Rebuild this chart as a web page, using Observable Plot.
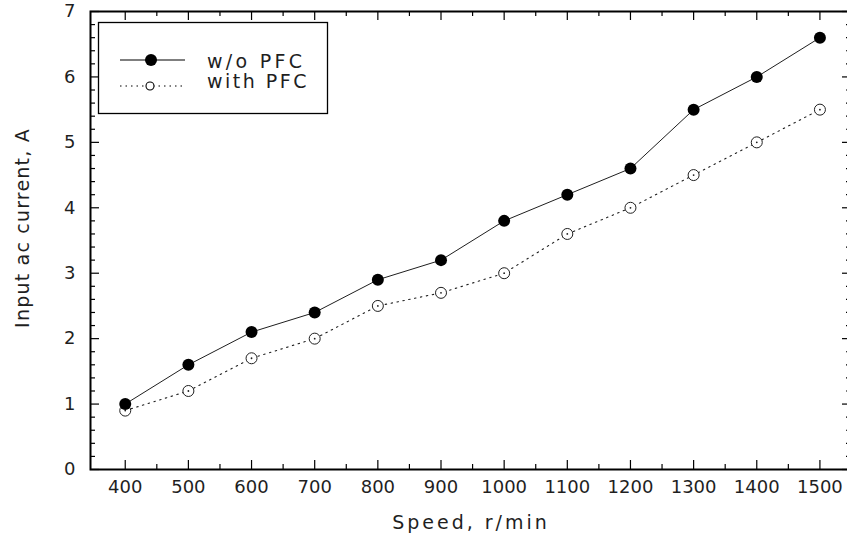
<!DOCTYPE html>
<html>
<head>
<meta charset="utf-8">
<script src="https://cdn.jsdelivr.net/npm/d3@7"></script>
<script src="https://cdn.jsdelivr.net/npm/@observablehq/plot@0.6"></script>
<style>
  html, body { margin: 0; padding: 0; background: #fff; }
  #chart { position: relative; width: 847px; height: 540px; overflow: hidden; }
  svg { font-family: "DejaVu Sans", sans-serif; }
</style>
</head>
<body>
<div id="chart"></div>
<script>
// ---- data ----
const speeds = [400, 500, 600, 700, 800, 900, 1000, 1100, 1200, 1300, 1400, 1500];
const withoutPFC = [1.0, 1.6, 2.1, 2.4, 2.9, 3.2, 3.8, 4.2, 4.6, 5.5, 6.0, 6.6];
const withPFC = [0.9, 1.2, 1.7, 2.0, 2.5, 2.7, 3.0, 3.6, 4.0, 4.5, 5.0, 5.5];
const xMajorTicks = [400, 500, 600, 700, 800, 900, 1000, 1100, 1200, 1300, 1400, 1500];
const xMinorTicks = [450, 550, 650, 750, 850, 950, 1050, 1150, 1250, 1350, 1450];
const yMajorTicks = [0, 1, 2, 3, 4, 5, 6, 7];
const yMinorTicks = [0.2,0.4,0.6,0.8,1.2,1.4,1.6,1.8,2.2,2.4,2.6,2.8,3.2,3.4,3.6,3.8,4.2,4.4,4.6,4.8,5.2,5.4,5.6,5.8,6.2,6.4,6.6,6.8];
const seriesNames = ["w/o PFC", "with PFC"];
const xTitle = "Speed, r/min";
const yTitle = "Input ac current, A";

const rowsA = speeds.map((s, i) => ({speed: s, value: withoutPFC[i]}));
const rowsB = speeds.map((s, i) => ({speed: s, value: withPFC[i]}));

const xDomain = [345, 1550];
const yDomain = [0, 7];
const W = 847, H = 540, mL = 90, mR = -4, mT = 11, mB = 71;
const pxX = (W - mL - mR) / (xDomain[1] - xDomain[0]);
const pxY = (H - mT - mB) / (yDomain[1] - yDomain[0]);
const majX = 9 / pxY, minX = 5 / pxY;  // vertical lengths for x ticks
const majY = 9 / pxX, minY = 5 / pxX;  // horizontal lengths for y ticks

const ink = "#1f1f1f";

const chart = Plot.plot({
  width: W,
  height: H,
  marginLeft: mL,
  marginRight: mR,
  marginTop: mT,
  marginBottom: mB,
  style: {fontFamily: "DejaVu Sans, sans-serif", fontSize: "18px", color: ink, background: "#fff"},
  x: {domain: xDomain, ticks: xMajorTicks, tickSize: 0, tickPadding: 11, tickFormat: d => String(d), label: null},
  y: {domain: yDomain, ticks: yMajorTicks, tickSize: 0, tickPadding: 15, tickFormat: d => String(d), label: null},
  marks: [
    Plot.frame({stroke: "#000", strokeWidth: 2}),
    // x ticks bottom & top
    Plot.ruleX(xMajorTicks, {x: d => d, y1: 0, y2: majX, stroke: "#000", strokeWidth: 1.2}),
    Plot.ruleX(xMinorTicks, {x: d => d, y1: 0, y2: minX, stroke: "#000", strokeWidth: 1.2}),
    Plot.ruleX(xMajorTicks, {x: d => d, y1: 7, y2: 7 - majX, stroke: "#000", strokeWidth: 1.2}),
    Plot.ruleX(xMinorTicks, {x: d => d, y1: 7, y2: 7 - minX, stroke: "#000", strokeWidth: 1.2}),
    // y ticks left & right
    Plot.ruleY(yMajorTicks, {y: d => d, x1: xDomain[0], x2: xDomain[0] + majY, stroke: "#000", strokeWidth: 1.2}),
    Plot.ruleY(yMinorTicks, {y: d => d, x1: xDomain[0], x2: xDomain[0] + minY, stroke: "#000", strokeWidth: 1.2}),
    Plot.ruleY(yMajorTicks, {y: d => d, x1: xDomain[1], x2: xDomain[1] - majY, stroke: "#000", strokeWidth: 1.2}),
    Plot.ruleY(yMinorTicks, {y: d => d, x1: xDomain[1], x2: xDomain[1] - minY, stroke: "#000", strokeWidth: 1.2}),
    // series
    Plot.line(rowsB, {x: "speed", y: "value", stroke: ink, strokeWidth: 1.1, strokeDasharray: "1.5,4.5"}),
    Plot.line(rowsA, {x: "speed", y: "value", stroke: ink, strokeWidth: 1}),
    Plot.dot(rowsB, {x: "speed", y: "value", r: 5.5, fill: "#fff", stroke: ink, strokeWidth: 1}),
    Plot.dot(rowsB, {x: "speed", y: "value", r: 0.9, fill: ink, stroke: "none"}),
    Plot.dot(rowsA, {x: "speed", y: "value", r: 6, fill: "#000", stroke: "none"}),
    // axis titles
    Plot.text([xTitle], {frameAnchor: "bottom", textAnchor: "middle", dy: 59, text: d => d, fontSize: 19, fill: ink}),
    Plot.text([yTitle], {frameAnchor: "left", textAnchor: "middle", dx: -68, dy: -12.5, rotate: -90, text: d => d, fontSize: 19, fill: ink})
  ]
});

document.getElementById("chart").appendChild(chart);

const svg = d3.select(chart);
// letter spacing for the axis titles (wide vector-style lettering in the reference)
svg.selectAll("text").filter(function () { return this.textContent === xTitle; }).style("letter-spacing", "3px");
svg.selectAll("text").filter(function () { return this.textContent === yTitle; }).style("letter-spacing", "1.2px");

// ---- legend (pixel layout) ----
const lg = svg.append("g").attr("font-family", "DejaVu Sans, sans-serif").attr("font-size", 19)
  .attr("fill", ink).attr("text-anchor", "start");
lg.append("rect").attr("x", 98.5).attr("y", 22.5).attr("width", 229).attr("height", 91)
  .attr("fill", "#fff").attr("stroke", "#000").attr("stroke-width", 1.3);
// row 1
lg.append("line").attr("x1", 120).attr("x2", 185).attr("y1", 60).attr("y2", 60).attr("stroke", "#000").attr("stroke-width", 1.2);
lg.append("circle").attr("cx", 151).attr("cy", 60).attr("r", 6).attr("fill", "#000");
lg.append("text").attr("x", 207).attr("y", 68).style("letter-spacing", "3.3px").text(seriesNames[0]);
// row 2
lg.append("line").attr("x1", 120).attr("x2", 185).attr("y1", 86).attr("y2", 86).attr("stroke", "#000")
  .attr("stroke-width", 1.1).attr("stroke-dasharray", "1.5,4");
lg.append("circle").attr("cx", 150).attr("cy", 86).attr("r", 4).attr("fill", "#fff").attr("stroke", "#000").attr("stroke-width", 1.1);
lg.append("text").attr("x", 207).attr("y", 88).style("letter-spacing", "2.5px").text(seriesNames[1]);
</script>
</body>
</html>
